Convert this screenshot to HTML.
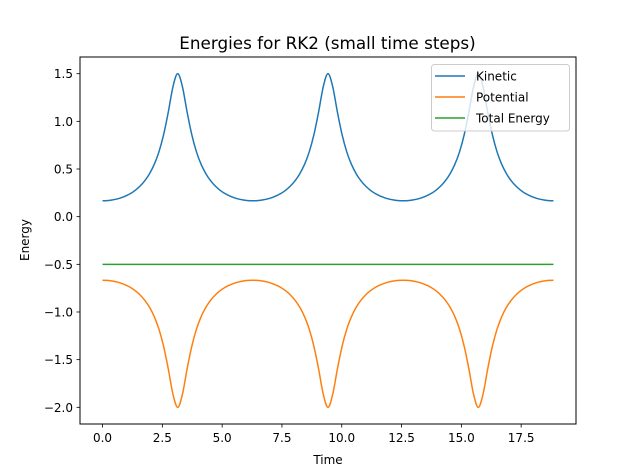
<!DOCTYPE html>
<html><head><meta charset="utf-8"><style>
html,body{margin:0;padding:0;background:#fff;}
svg{display:block;font-family:"DejaVu Sans","Liberation Sans",sans-serif;}
</style></head><body>
<svg id="chart" width="640" height="476" viewBox="0 0 640 476">
<rect x="0" y="0" width="640" height="476" fill="#fff"/>
<text x="327.5" y="49" text-anchor="middle" font-size="16.8" fill="#000">Energies for RK2 (small time steps)</text>
<g id="plot"></g>
<text x="328" y="464" text-anchor="middle" font-size="12">Time</text>
<text x="29" y="240" text-anchor="middle" font-size="12" transform="rotate(-90 29 240)">Energy</text>
</svg>
<script>
const kineticPeriod = [0.1667,0.1686,0.1745,0.1846,0.1992,0.2191,0.2440,0.2781,0.3214,0.3773,0.4506,0.5475,0.679,0.860,1.098,1.365,1.5,1.365,1.098,0.860,0.679,0.5475,0.4506,0.3773,0.3214,0.2781,0.2440,0.2191,0.1992,0.1846,0.1745,0.1686,0.1667];
const potentialPeriod = [-0.6667,-0.6686,-0.6745,-0.6846,-0.6992,-0.7191,-0.7440,-0.7781,-0.8214,-0.8773,-0.9506,-1.0475,-1.179,-1.360,-1.598,-1.865,-2.0,-1.865,-1.598,-1.360,-1.179,-1.0475,-0.9506,-0.8773,-0.8214,-0.7781,-0.7440,-0.7191,-0.6992,-0.6846,-0.6745,-0.6686,-0.6667];
const kinetic = kineticPeriod.concat(kineticPeriod.slice(1), kineticPeriod.slice(1));
const potential = potentialPeriod.concat(potentialPeriod.slice(1), potentialPeriod.slice(1));
const totalTimes = [0, 18.85];
const totalValues = [-0.5, -0.5];
const timeStep = 0.19635;
const xTicks = [0, 2.5, 5, 7.5, 10, 12.5, 15, 17.5];
const xTickLabels = ["0.0","2.5","5.0","7.5","10.0","12.5","15.0","17.5"];
const yTicks = [1.5, 1.0, 0.5, 0.0, -0.5, -1.0, -1.5, -2.0];
const yTickLabels = ["1.5","1.0","0.5","0.0","\u22120.5","\u22121.0","\u22121.5","\u22122.0"];

const L=80,R=576,T=57,B=424;
const X0=0-0.9425,X1=18.85+0.9425,Y0=-2.175,Y1=1.675;
function xs(v){return L+(v-X0)/(X1-X0)*(R-L);}
function ys(v){return B-(v-Y0)/(Y1-Y0)*(B-T);}
const NS="http://www.w3.org/2000/svg";
const g=document.getElementById('plot');
function mk(tag,attrs,parent){const e=document.createElementNS(NS,tag);for(const k in attrs)e.setAttribute(k,attrs[k]);(parent||g).appendChild(e);return e;}
function smoothPath(pts){
  let d="M"+pts[0][0].toFixed(2)+","+pts[0][1].toFixed(2);
  for(let i=0;i<pts.length-1;i++){
    const p0=pts[Math.max(0,i-1)],p1=pts[i],p2=pts[i+1],p3=pts[Math.min(pts.length-1,i+2)];
    const c1x=p1[0]+(p2[0]-p0[0])/6,c1y=p1[1]+(p2[1]-p0[1])/6;
    const c2x=p2[0]-(p3[0]-p1[0])/6,c2y=p2[1]-(p3[1]-p1[1])/6;
    d+=" C"+c1x.toFixed(2)+","+c1y.toFixed(2)+" "+c2x.toFixed(2)+","+c2y.toFixed(2)+" "+p2[0].toFixed(2)+","+p2[1].toFixed(2);
  }
  return d;
}
const kp=kinetic.map((v,i)=>[xs(i*timeStep),ys(v)]);
const pp=potential.map((v,i)=>[xs(i*timeStep),ys(v)]);
const tp=totalValues.map((v,i)=>[xs(totalTimes[i]),ys(v)]);
let e;
e=mk('path',{d:smoothPath(kp),fill:'none',stroke:'#1f77b4','stroke-width':1.5});


e=mk('path',{d:smoothPath(pp),fill:'none',stroke:'#ff7f0e','stroke-width':1.5});


e=mk('path',{d:"M"+tp[0][0]+","+tp[0][1]+" L"+tp[1][0]+","+tp[1][1],fill:'none',stroke:'#2ca02c','stroke-width':1.5});


e=mk('rect',{x:L,y:T,width:R-L,height:B-T,fill:'none',stroke:'#000','stroke-width':1});


xTicks.forEach((v,i)=>{
  const x=xs(v);
  const t=mk('line',{x1:x,y1:B,x2:x,y2:B+3.5,stroke:'#000','stroke-width':0.8});
  
  
  const lb=mk('text',{x:x,y:B+18,'text-anchor':'middle','font-size':12});
  lb.textContent=xTickLabels[i];
  
  
});
yTicks.forEach((v,i)=>{
  const y=ys(v);
  const t=mk('line',{x1:L-3.5,y1:y,x2:L,y2:y,stroke:'#000','stroke-width':0.8});
  
  
  const lb=mk('text',{x:L-7,y:y+4.5,'text-anchor':'end','font-size':12});
  lb.textContent=yTickLabels[i];
  
  
});
const lg=mk('g',{});


mk('rect',{x:431.5,y:64.5,width:138,height:66.5,rx:3,fill:'#fff','fill-opacity':0.8,stroke:'#ccc','stroke-width':1},lg);
const legNames=["Kinetic","Potential","Total Energy"];
const legColors=["#1f77b4","#ff7f0e","#2ca02c"];
const legKeys=["kinetic","potential","total-energy"];
legNames.forEach((n,i)=>{
  const y=76+i*21;
  const en=mk('g',{},lg);
  
  
  mk('line',{x1:435,y1:y,x2:465,y2:y,stroke:legColors[i],'stroke-width':1.5},en);
  const tx=mk('text',{x:476,y:y+4.5,'font-size':12},en);
  tx.textContent=n;
});
</script>
</body></html>
